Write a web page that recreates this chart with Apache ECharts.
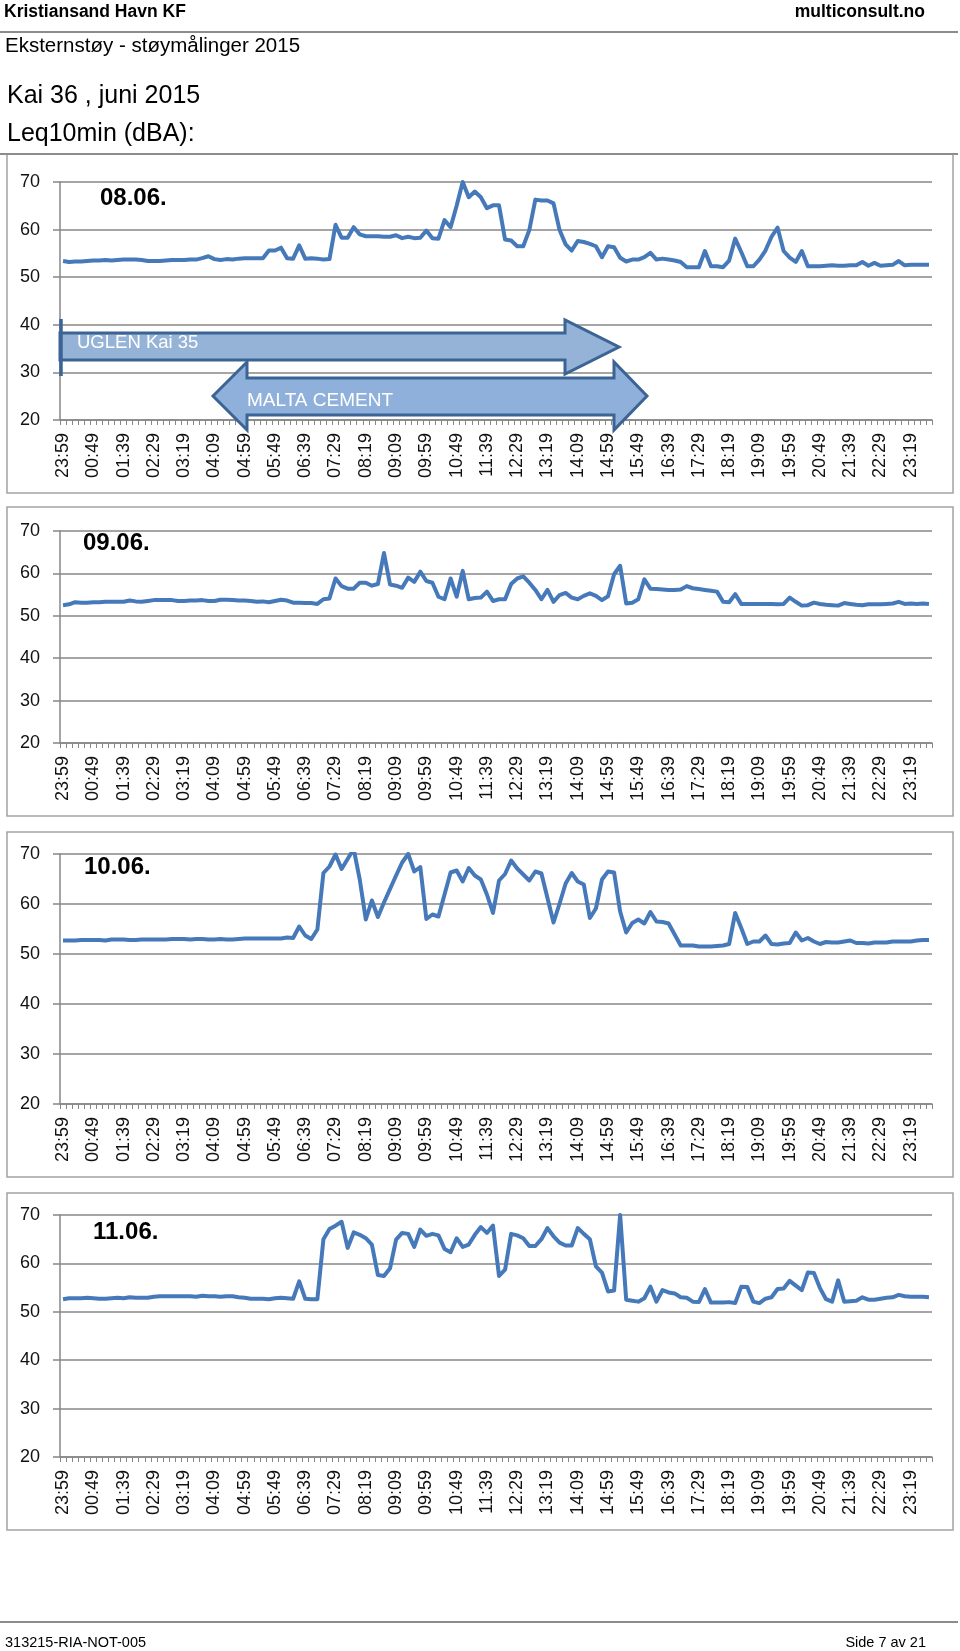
<!DOCTYPE html>
<html>
<head>
<meta charset="utf-8">
<script src="https://cdn.jsdelivr.net/npm/echarts@6/dist/echarts.min.js"></script>
<style>
html,body{margin:0;padding:0;background:#fff;}
#c{width:960px;height:1651px;}
</style>
</head>
<body>
<div id="c"></div>
<script>
// ---- categories (10-minute intervals, 23:59 .. 23:49) ----
const categories = ["23:59"];
for (let h = 0; h < 24; h++) {
  for (const m of ["09","19","29","39","49","59"]) {
    const t = (h < 10 ? "0" + h : "" + h) + ":" + m;
    if (t !== "23:59") categories.push(t);
  }
}
const yTicks = [20, 30, 40, 50, 60, 70];

// ---- series values (Leq10min dBA) ----
const d0806 = [
53.4,53.2,53.3,53.3,53.4, 53.5,53.5,53.6,53.5,53.6, 53.7,53.7,53.7,53.6,53.4,
53.4,53.4,53.5,53.6,53.6, 53.6,53.7,53.7,54.0,54.4, 53.8,53.6,53.8,53.7,53.9,
54.0,54.0,54.0,54.0,55.6, 55.6,56.2,54.0,53.9,56.7, 53.9,54.0,53.9,53.7,53.8,
61.0,58.3,58.3,60.5,59.0, 58.6,58.6,58.6,58.5,58.5, 58.8,58.2,58.5,58.2,58.3,
59.8,58.2,58.1,62.0,60.5, 65.0,70.0,66.8,68.0,66.8, 64.5,65.1,65.1,57.9,57.7,
56.5,56.5,59.9,66.3,66.1, 66.1,65.5,59.9,56.9,55.6, 57.6,57.4,57.0,56.5,54.2,
56.5,56.3,54.1,53.3,53.7, 53.7,54.2,55.1,53.7,53.9, 53.7,53.5,53.2,52.1,52.1,
52.1,55.5,52.3,52.3,52.1, 53.5,58.1,55.3,52.3,52.3, 53.7,55.6,58.5,60.4,55.5,
54.1,53.2,55.5,52.3,52.3, 52.3,52.4,52.5,52.4,52.4, 52.5,52.5,53.2,52.4,53.0,
52.4,52.5,52.6,53.4,52.5, 52.6,52.6,52.6,52.6];

const d0906 = [
52.5,52.7,53.2,53.1,53.1, 53.2,53.2,53.3,53.3,53.3, 53.3,53.6,53.4,53.3,53.5,
53.7,53.7,53.7,53.7,53.5, 53.5,53.6,53.6,53.7,53.5, 53.5,53.8,53.8,53.7,53.6,
53.6,53.5,53.3,53.4,53.2, 53.5,53.8,53.6,53.1,53.1, 53.0,53.0,52.8,53.9,54.1,
58.8,57.0,56.4,56.4,57.8, 57.8,57.1,57.5,64.8,57.4, 57.1,56.6,59.0,58.0,60.4,
58.2,57.8,54.5,53.9,58.8, 54.5,60.6,53.9,54.2,54.3, 55.7,53.5,53.9,53.9,57.5,
58.8,59.3,57.8,56.1,53.9, 56.1,53.3,54.9,55.4,54.3, 53.9,54.7,55.3,54.7,53.7,
54.6,59.8,61.8,52.9,53.1, 53.9,58.6,56.4,56.3,56.2, 56.1,56.1,56.2,57.0,56.5,
56.3,56.1,55.9,55.7,53.3, 53.2,55.1,52.8,52.8,52.8, 52.8,52.8,52.8,52.7,52.8,
54.3,53.3,52.4,52.5,53.1, 52.8,52.6,52.5,52.4,53.0, 52.8,52.6,52.5,52.7,52.7,
52.7,52.8,52.9,53.3,52.8, 52.9,52.8,52.9,52.8];

const d1006 = [
52.7,52.7,52.7,52.8,52.8, 52.8,52.8,52.7,52.9,52.9, 52.9,52.8,52.8,52.9,52.9,
52.9,52.9,52.9,53.0,53.0, 53.0,52.9,53.0,53.0,52.9, 52.9,53.0,52.9,52.9,53.0,
53.1,53.1,53.1,53.1,53.1, 53.1,53.1,53.3,53.2,55.5, 53.7,53.0,54.9,66.2,67.5,
69.9,67.0,69.0,71.0,64.9, 56.9,60.7,57.4,60.3,63.0, 65.7,68.3,70.0,66.5,67.4,
57.0,57.9,57.5,61.9,66.3, 66.7,64.5,67.2,65.7,64.9, 61.9,58.2,64.7,66.0,68.7,
67.1,65.9,64.7,66.5,66.1, 61.2,56.3,60.1,64.1,66.2, 64.5,63.9,57.2,59.1,64.9,
66.5,66.3,58.5,54.3,56.2, 56.9,56.1,58.4,56.5,56.4, 56.1,53.9,51.7,51.7,51.7,
51.5,51.5,51.5,51.6,51.7, 52.0,58.2,55.2,52.0,52.5, 52.5,53.7,52.0,51.9,52.1,
52.2,54.3,52.7,53.2,52.5, 52.0,52.4,52.3,52.3,52.5, 52.7,52.2,52.2,52.1,52.3,
52.3,52.3,52.5,52.5,52.5, 52.5,52.7,52.8,52.8];

const d1106 = [
52.6,52.8,52.8,52.8,52.9, 52.8,52.7,52.7,52.8,52.9, 52.8,53.0,52.9,52.9,52.9,
53.1,53.2,53.2,53.2,53.2, 53.2,53.2,53.1,53.3,53.2, 53.2,53.1,53.2,53.2,53.0,
52.9,52.7,52.7,52.7,52.6, 52.8,52.9,52.8,52.7,56.3, 52.7,52.6,52.6,65.0,67.1,
67.8,68.6,63.2,66.4,65.9, 65.2,63.9,57.6,57.4,59.0, 64.9,66.3,66.1,63.4,67.0,
65.7,66.1,65.8,63.0,62.3, 65.2,63.4,63.9,65.9,67.5, 66.3,67.8,57.4,58.7,66.1,
65.8,65.2,63.6,63.6,65.0, 67.3,65.6,64.3,63.7,63.7, 67.3,66.1,65.0,59.4,58.1,
54.2,54.4,70.0,52.5,52.3, 52.1,52.8,55.2,52.1,54.5, 54.0,53.8,53.0,52.9,52.1,
52.0,54.7,51.9,51.9,51.9, 52.0,51.8,55.2,55.1,52.1, 51.8,52.7,53.0,54.7,54.8,
56.4,55.4,54.5,58.1,58.0, 54.9,52.6,52.1,56.5,52.1, 52.2,52.3,53.0,52.5,52.5,
52.7,52.9,53.0,53.5,53.2, 53.1,53.1,53.1,53.0];

const dayLabels = ["08.06.", "09.06.", "10.06.", "11.06."];
const seriesData = [d0806, d0906, d1006, d1106];

// ---- layout ----
const FF = "'Liberation Sans', Arial, sans-serif";
const grids = [
  {left: 60, width: 872, top: 182, height: 238},
  {left: 60, width: 872, top: 531, height: 212},
  {left: 60, width: 872, top: 854, height: 250},
  {left: 60, width: 872, top: 1215, height: 242}
];
const boxes = [[7,154,946,339],[7,507,946,309],[7,832,946,345],[7,1193,946,337]];
const dayPos = [[100,198],[83,543],[84,867],[93,1232]];
const GRID_C = '#878787';

const xAxes = [], yAxes = [], series = [];
grids.forEach((g, k) => {
  xAxes.push({
    type: 'category', gridIndex: k, data: categories, boundaryGap: true,
    axisLine: {show: true, lineStyle: {color: GRID_C, width: 1.5}},
    axisTick: {show: true, interval: 0, length: 5, lineStyle: {color: GRID_C, width: 1}},
    axisLabel: {interval: 4, rotate: 90, margin: 13, fontSize: 18, color: '#111', fontFamily: FF},
    splitLine: {show: false}
  });
  yAxes.push({
    type: 'value', gridIndex: k, min: yTicks[0], max: yTicks[yTicks.length - 1], interval: 10,
    axisLine: {show: true, lineStyle: {color: GRID_C, width: 1.5}},
    axisTick: {show: true, length: 7, lineStyle: {color: GRID_C, width: 1.5}},
    axisLabel: {margin: 20, fontSize: 18, color: '#111', fontFamily: FF},
    splitLine: {show: true, lineStyle: {color: GRID_C, width: 1.5}}
  });
  series.push({
    type: 'line', xAxisIndex: k, yAxisIndex: k, data: seriesData[k],
    symbol: 'none', showSymbol: false, clip: true,
    lineStyle: {color: '#4679b9', width: 4, join: 'round'}
  });
});

const graphics = [];
function txt(x, y, text, font, fill, align) {
  graphics.push({type: 'text', x: x, y: y, z: 100,
    style: {text: text, font: font, fill: fill || '#000', align: align || 'left', verticalAlign: 'middle'}});
}
function hline(y, x1, x2, color, w) {
  graphics.push({type: 'line', z: 50, shape: {x1: x1, y1: y, x2: x2, y2: y}, style: {stroke: color, lineWidth: w}});
}
// header
txt(4, 12, 'Kristiansand Havn KF', 'bold 17.5px ' + FF, '#000');
txt(925, 12, 'multiconsult.no', 'bold 17.5px ' + FF, '#000', 'right');
hline(32, 0, 958, '#8c8c8c', 2);
txt(5, 46, 'Eksternstøy - støymålinger 2015', '20.5px ' + FF, '#000');
txt(7, 96, 'Kai 36 , juni 2015', '25px ' + FF, '#000');
txt(7, 134, 'Leq10min (dBA):', '25px ' + FF, '#000');
hline(154, 0, 958, '#8c8c8c', 2);
// footer
hline(1622, 0, 958, '#8c8c8c', 2);
txt(5, 1643, '313215-RIA-NOT-005', '14.5px ' + FF, '#000');
txt(926, 1643, 'Side 7 av 21', '14.5px ' + FF, '#000', 'right');
// chart boxes
boxes.forEach(b => graphics.push({type: 'rect', z: 1, shape: {x: b[0], y: b[1], width: b[2], height: b[3]},
  style: {fill: 'rgba(0,0,0,0)', stroke: '#a3a3a3', lineWidth: 1.5}}));
// day labels
dayLabels.forEach((t, k) => txt(dayPos[k][0], dayPos[k][1], t, 'bold 24px ' + FF, '#000'));
// arrows (annotations on 08.06.)
const AF = '#95b3d7', AS = '#3b6494';
graphics.push({type: 'polygon', z: 60, shape: {points: [[60,333],[565,333],[565,320],[619,347],[565,374],[565,360],[60,360]]},
  style: {fill: AF, stroke: AS, lineWidth: 3, lineJoin: 'miter'}});
graphics.push({type: 'line', z: 61, shape: {x1: 61, y1: 319, x2: 61, y2: 376}, style: {stroke: AS, lineWidth: 3.5}});
graphics.push({type: 'polygon', z: 60, shape: {points: [[213,396],[247,362],[247,378],[614,378],[614,362],[647,396],[614,430],[614,415],[247,415],[247,430]]},
  style: {fill: '#8fb0da', stroke: AS, lineWidth: 3, lineJoin: 'miter'}});
txt(77, 343, 'UGLEN Kai 35', '18.5px ' + FF, '#fff');
txt(247, 401, 'MALTA CEMENT', '19px ' + FF, '#fff');

const chart = echarts.init(document.getElementById('c'), null, {renderer: 'canvas'});
chart.setOption({
  animation: false,
  backgroundColor: '#fff',
  grid: grids,
  xAxis: xAxes,
  yAxis: yAxes,
  series: series,
  graphic: graphics
});
</script>
</body>
</html>
